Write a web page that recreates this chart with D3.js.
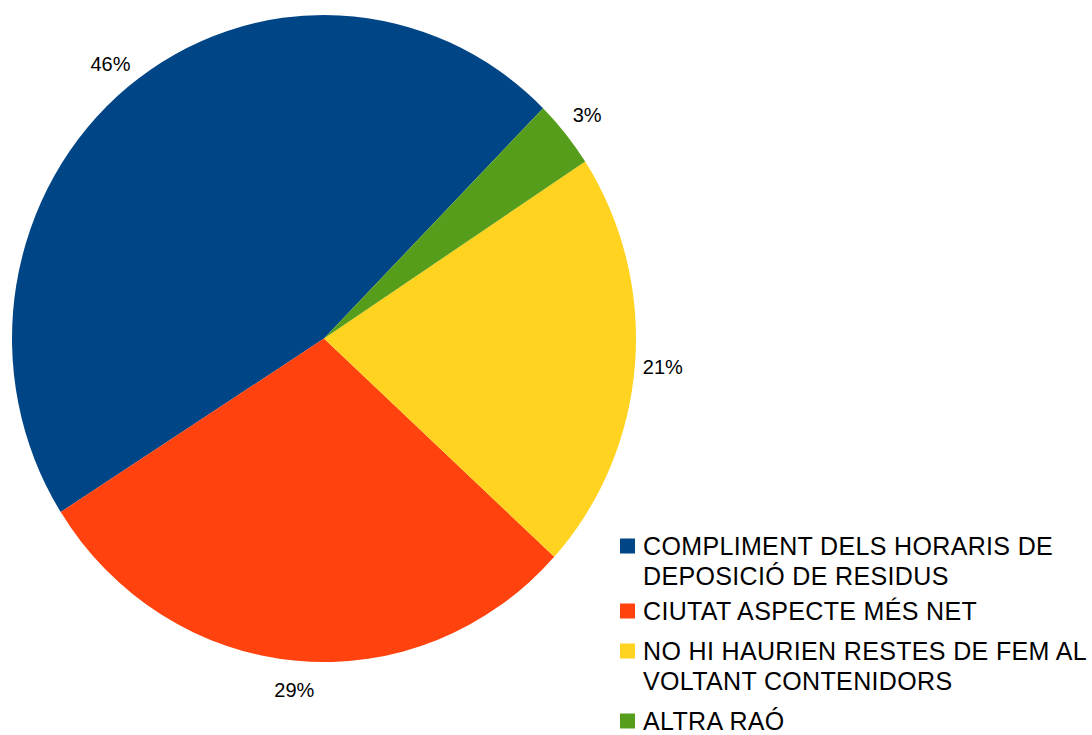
<!DOCTYPE html>
<html>
<head>
<meta charset="utf-8">
<script src="https://cdn.jsdelivr.net/npm/d3@7"></script>
<style>
  html, body { margin: 0; padding: 0; background: #fff; }
  svg { display: block; }
  text { font-family: "Liberation Sans", Arial, sans-serif; fill: #000; }
</style>
</head>
<body>
<svg id="chart" width="1092" height="735"></svg>
<script>
// Data
const categories = [
  "COMPLIMENT DELS HORARIS DE DEPOSICIÓ DE RESIDUS",
  "CIUTAT ASPECTE MÉS NET",
  "NO HI HAURIEN RESTES DE FEM AL VOLTANT CONTENIDORS",
  "ALTRA RAÓ"
];
const legendLines = [
  ["COMPLIMENT DELS HORARIS DE", "DEPOSICIÓ DE RESIDUS"],
  ["CIUTAT ASPECTE MÉS NET"],
  ["NO HI HAURIEN RESTES DE FEM AL", "VOLTANT CONTENIDORS"],
  ["ALTRA RAÓ"]
];
const values = [46.4, 29.2, 21.0, 3.4];
const colors = ["#004586", "#ff420e", "#ffd320", "#579d1c"];

const svg = d3.select("#chart");
const cx = 324, cy = 338.5, rx = 312, ry = 323.5;
const ky = ry / rx;
const startDeg = 44.6;
const a0 = startDeg * Math.PI / 180;

const pie = d3.pie().sort(null).value(d => d)
  .startAngle(a0).endAngle(a0 - 2 * Math.PI);
const arcs = pie(values);
const arc = d3.arc().innerRadius(0).outerRadius(rx);
const labelArc = d3.arc().innerRadius(340).outerRadius(340);

const g = svg.append("g").attr("transform", `translate(${cx},${cy}) scale(1,${ky})`);
g.selectAll("path").data(arcs).enter().append("path")
  .attr("d", arc)
  .attr("fill", (d, i) => colors[i]);

const fmt = v => Math.round(v) + "%";
svg.append("g").attr("transform", `translate(${cx},${cy})`)
  .selectAll("text").data(arcs).enter().append("text")
  .attr("x", d => labelArc.centroid(d)[0])
  .attr("y", d => labelArc.centroid(d)[1] * ky)
  .attr("text-anchor", "middle")
  .attr("dominant-baseline", "central")
  .style("font-size", "20px")
  .text(d => fmt(d.data));

// Legend
const legend = svg.append("g");
const itemTops = [546, 611, 651, 721];
const lineH = 30;
legendLines.forEach((lines, i) => {
  legend.append("rect")
    .attr("x", 620).attr("y", itemTops[i] - 7.5)
    .attr("width", 15).attr("height", 15)
    .attr("fill", colors[i]);
  lines.forEach((ln, j) => {
    legend.append("text")
      .attr("x", 643)
      .attr("y", itemTops[i] + j * lineH)
      .attr("dominant-baseline", "central")
      .style("font-size", "25px")
      .style("letter-spacing", "0.35px")
      .text(ln);
  });
});
</script>
</body>
</html>
